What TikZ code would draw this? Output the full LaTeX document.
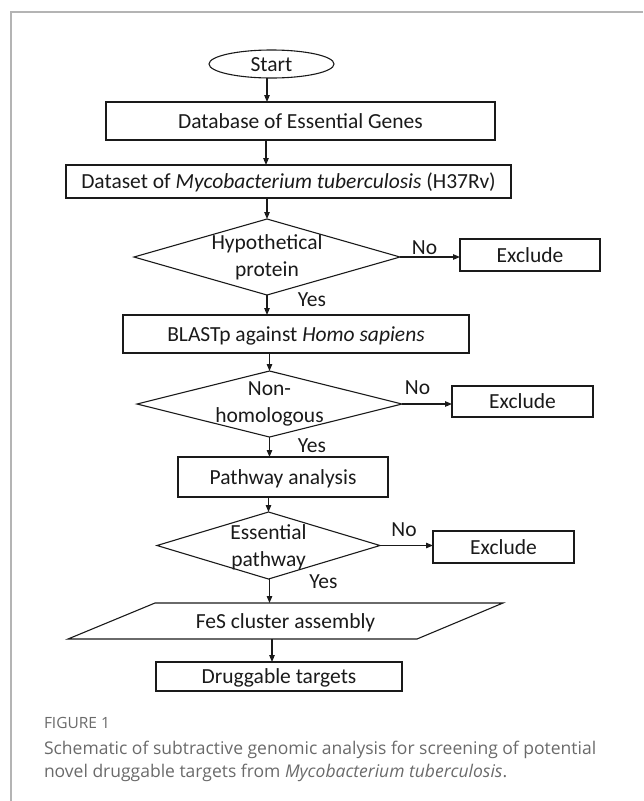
\documentclass[tikz,border=0pt]{standalone}
\usepackage{fontspec}
\setmainfont{Carlito}
\newfontfamily\capfont{Open Sans}
\usetikzlibrary{shapes.geometric,arrows.meta}
\definecolor{ink}{HTML}{1A1A1A}
\definecolor{capgray}{HTML}{6A6A6A}
\definecolor{framegray}{HTML}{B4B4B4}
\begin{document}
\begin{tikzpicture}[x=1pt,y=-1pt,
  every node/.style={font=\fontsize{21.5}{27}\selectfont, text=ink, inner sep=0pt, outer sep=0pt},
  one/.style={text height=14pt, text depth=0pt},
  boxnode/.style={draw=ink, line width=1.1pt, rectangle, one},
  decnode/.style={draw=ink, line width=1.1pt, diamond},
  arr/.style={draw=ink, line width=1.1pt, -{Triangle[length=7pt,width=5.5pt]}},
  lnk/.style={draw=ink, line width=1.1pt}
]
\useasboundingbox (0,0) rectangle (643,801);
% frame
\draw[framegray, line width=1.2pt] (11,801) -- (11,12) -- (643,12);

% nodes
\node[draw=ink, line width=1.1pt, ellipse, one, minimum width=125pt, minimum height=28pt] (start) at (271.5,64) {Start};
\node[boxnode, minimum width=389pt, minimum height=38pt] (box1) at (300.5,121) {Database of Essential Genes};
\node[boxnode, minimum width=445pt, minimum height=33pt] (box2) at (288.5,181.5) {Dataset of \textit{Mycobacterium tuberculosis} (H37Rv)};

\node[decnode, minimum width=266pt, minimum height=76pt] (d1) at (267,257) {};
\node[align=center] (d1t) at (267,257.5) {Hypothetical\\protein};
\node[boxnode, minimum width=140pt, minimum height=32pt] (e1) at (530,255) {Exclude};
\node[one] (no1) at (424.5,247) {No};
\node[one] (yes1) at (312,299) {Yes};

\node[boxnode, minimum width=346pt, minimum height=38pt] (blast) at (296,334) {BLASTp against \textit{Homo sapiens}};

\node[decnode, minimum width=265pt, minimum height=66pt] (d2) at (269.5,404) {};
\node[align=center] (d2t) at (269.5,404) {Non-\\homologous};
\node[boxnode, minimum width=141pt, minimum height=31pt] (e2) at (522.5,401.5) {Exclude};
\node[one] (no2) at (417.5,387) {No};
\node[one] (yes2) at (312,445) {Yes};

\node[boxnode, minimum width=210pt, minimum height=40pt] (path) at (283,477) {Pathway analysis};

\node[decnode, minimum width=223pt, minimum height=67pt] (d3) at (268.5,545.5) {};
\node[align=center] (d3t) at (268.5,547) {Essential\\pathway};
\node[boxnode, minimum width=141pt, minimum height=32pt] (e3) at (503.5,547) {Exclude};
\node[one] (no3) at (404,529) {No};
\node[one] (yes3) at (323.5,581) {Yes};

\draw[lnk] (155,603) -- (503,603) -- (417,639) -- (68,639) -- cycle;
\node[one, minimum width=260pt, minimum height=36pt] (fes) at (285.5,621) {FeS cluster assembly};

\node[boxnode, minimum width=246pt, minimum height=29pt] (drug) at (279,676.5) {Druggable targets};

% connectors
\draw[arr] (start.south -| d1.north) -- (box1.north -| d1.north);
\draw[arr] ([xshift=-1pt]box1.south -| d1.north) -- ([xshift=-1pt]box2.north -| d1.north);
\draw[arr] (box2.south -| d1.north) -- (d1.north);
\draw[arr] (d1.south) -- (blast.north -| d1.south);
\draw[arr] (blast.south -| d2.north) -- (d2.north);
\draw[arr] (d2.south) -- (path.north -| d2.south);
\draw[arr] (path.south -| d3.north) -- (d3.north);
\draw[arr] ([xshift=1pt]d3.south) -- ([xshift=1pt]fes.north -| d3.south);
\draw[arr] ([xshift=-7pt]drug.north |- fes.south) -- ([xshift=-7pt]drug.north);
\draw[arr] (d1.east) -- (d1.east -| e1.west);
\draw[arr] (d2.east) -- (d2.east -| e2.west);
\draw[arr] (d3.east) -- (d3.east -| e3.west);

% caption
\node[anchor=west, font=\capfont\fontsize{15.5}{18}\selectfont, text=capgray] (fig) at (44,723) {FIGURE 1};
\node[anchor=west, align=left, font=\capfont\fontsize{17.5}{23}\selectfont, text=capgray] (cap) at (44,761)
  {Schematic of subtractive genomic analysis for screening of potential\\novel druggable targets from \textit{Mycobacterium tuberculosis}.};
\end{tikzpicture}
\end{document}
